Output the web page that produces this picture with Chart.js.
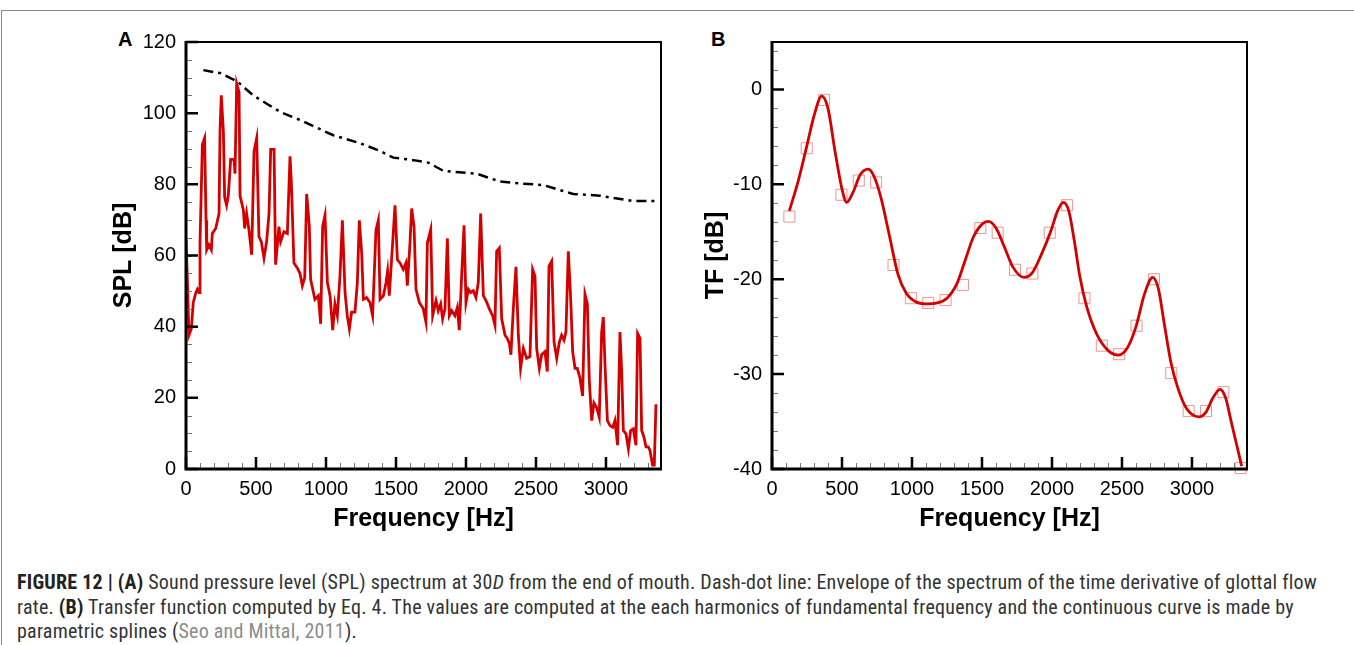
<!DOCTYPE html>
<html>
<head>
<meta charset="utf-8">
<script src="https://cdn.jsdelivr.net/npm/chart.js@4.4.1/dist/chart.umd.min.js"></script>
<style>
  body { margin: 0; background: #fff; width: 1354px; height: 645px; overflow: hidden; position: relative; font-family: "Liberation Sans", Arial, sans-serif; }
  .frame { position: absolute; left: 1px; top: 10px; width: 1360px; height: 650px; border-top: 1px solid #8a8a8a; border-left: 1px solid #8a8a8a; }
  canvas { position: absolute; }
  .panel { position: absolute; font-weight: bold; font-size: 20px; color: #000; }
  .caption { position: absolute; left: 17px; top: 570px; font-family: "Roboto Condensed", "Liberation Sans Narrow", Arial, sans-serif; font-size: 20px; letter-spacing: 0.23px; line-height: 24.5px; color: #333; white-space: nowrap; }
  .caption b { color: #222; }
  .caption .ref { color: #8c8c8c; }
</style>
</head>
<body>
<div class="frame"></div>
<div class="panel" style="left:118px; top:28px;">A</div>
<div class="panel" style="left:711px; top:28px;">B</div>
<canvas id="chartA" width="580" height="520" style="left:100px; top:20px;"></canvas>
<canvas id="chartB" width="580" height="520" style="left:690px; top:20px;"></canvas>
<div class="caption">
  <div><b>FIGURE 12 | (A)</b> Sound pressure level (SPL) spectrum at 30<i>D</i> from the end of mouth. Dash-dot line: Envelope of the spectrum of the time derivative of glottal flow</div>
  <div>rate. <b>(B)</b> Transfer function computed by Eq. 4. The values are computed at the each harmonics of fundamental frequency and the continuous curve is made by</div>
  <div>parametric splines (<span class="ref">Seo and Mittal, 2011</span>).</div>
</div>
<script>
// Panel A: SPL spectrum
const spectrumHz = [
  0, 9, 21, 38, 52, 70, 81, 93, 100, 117, 133, 143, 148, 164, 181, 188, 212, 236,
  243, 252, 267, 276, 290, 302, 319, 343, 350, 362, 379, 386, 410, 419, 433, 450,
  469, 486, 505, 521, 538, 557, 576, 593, 605, 629, 640, 664, 676, 700, 724, 743,
  752, 771, 795, 814, 831, 848, 862, 881, 890, 921, 945, 962, 976, 993, 1010, 1029,
  1048, 1064, 1081, 1100, 1117, 1136, 1152, 1167, 1183, 1207, 1224, 1238, 1255, 1267,
  1290, 1314, 1333, 1357, 1374, 1386, 1410, 1429, 1440, 1452, 1476, 1493, 1510, 1529,
  1552, 1571, 1581, 1600, 1612, 1629, 1643, 1667, 1695, 1714, 1724, 1748, 1762, 1786,
  1802, 1819, 1833, 1850, 1867, 1881, 1898, 1921, 1938, 1952, 1969, 1986, 2000, 2017,
  2033, 2052, 2071, 2088, 2105, 2124, 2143, 2167, 2190, 2207, 2219, 2238, 2255, 2279,
  2295, 2310, 2321, 2338, 2357, 2374, 2390, 2410, 2433, 2457, 2476, 2493, 2505, 2524,
  2540, 2564, 2581, 2593, 2612, 2629, 2648, 2667, 2683, 2700, 2714, 2731, 2748, 2762,
  2779, 2795, 2814, 2833, 2850, 2867, 2881, 2898, 2914, 2933, 2952, 2969, 2981, 2993,
  3010, 3029, 3048, 3064, 3083, 3100, 3112, 3124, 3143, 3160, 3176, 3195, 3214, 3226,
  3243, 3255, 3271, 3286, 3302, 3314, 3333, 3345, 3357
];
const spectrumDb = [
  64.4, 54.2, 37.6, 39.4, 46.8, 49.5, 50.5, 49.6, 63.5, 91.2, 93.0, 69.9, 61.6, 63.0, 61.6, 66.2, 67.6, 71.8,
  94.9, 105.0, 94.9, 76.4, 74.1, 76.8, 87.0, 87.0, 83.0, 108.3, 105.9, 76.8, 72.7, 67.6, 71.8, 67.1,
  60.2, 89.3, 93.0, 65.3, 63.9, 59.3, 63.9, 71.8, 89.8, 89.8, 57.4, 68.1, 63.9, 66.7, 66.2, 87.9,
  81.0, 57.9, 56.5, 55.0, 51.5, 53.8, 77.3, 68.1, 53.3, 47.7, 48.7, 40.8, 68.1, 71.3, 52.4, 48.7,
  39.0, 46.4, 43.1, 54.2, 69.9, 49.6, 43.1, 39.4, 44.1, 44.1, 52.4, 69.9, 60.7, 47.7,
  48.2, 46.8, 43.1, 67.1, 69.9, 47.7, 48.7, 52.4, 55.6, 48.7, 63.5, 74.1, 58.8, 57.9,
  56.1, 57.9, 51.5, 63.5, 73.2, 68.1, 50.5, 46.8, 45.0, 41.3, 63.5, 67.3, 43.1, 47.3,
  44.5, 46.4, 42.2, 45.0, 64.8, 43.1, 44.5, 43.1, 45.4, 39.0, 54.2, 68.5, 46.8, 50.5,
  49.6, 50.1, 48.2, 52.4, 71.8, 48.7, 47.3, 45.0, 43.1, 40.4, 61.2, 62.1, 42.2, 37.6,
  36.7, 35.3, 32.1, 45.0, 56.8, 37.6, 28.3, 33.9, 31.1, 31.6, 56.1, 54.2, 33.9, 28.3,
  32.1, 33.0, 27.4, 57.0, 58.4, 35.7, 31.1, 35.7, 37.6, 36.2, 38.5, 61.2, 47.7, 33.0,
  28.3, 28.3, 25.6, 20.5, 49.1, 46.4, 24.7, 13.6, 18.6, 17.3, 14.5, 38.5, 42.7, 29.3,
  13.6, 12.2, 11.7, 13.6, 6.7, 38.5, 27.4, 10.8, 9.9, 5.7, 10.8, 11.3, 6.7, 38.1,
  36.7, 10.8, 9.0, 6.2, 6.2, 5.3, 1.1, 1.1, 18.2
];
// dash-dot envelope of the glottal flow derivative spectrum
const envelopeHz = [124, 250, 370, 480, 600, 680, 814, 930, 1052, 1240, 1380, 1481, 1624, 1731, 1838, 1950, 2076, 2150, 2243, 2400, 2552, 2660, 2767, 2957, 3080, 3195, 3362];
const envelopeDb = [112.1, 111.2, 108.8, 105.0, 102.1, 100.2, 98.1, 96.0, 93.8, 91.6, 89.5, 87.5, 86.8, 86.1, 83.8, 83.4, 83.0, 82.0, 80.8, 80.2, 79.8, 78.5, 77.3, 76.8, 76.0, 75.3, 75.3];

// Panel B: transfer function at the harmonics (squares) and spline curve
const harmonicHz = [124, 248, 372, 496, 620, 744, 868, 992, 1116, 1240, 1364, 1488, 1612, 1736, 1860, 1984, 2108, 2232, 2356, 2480, 2604, 2728, 2852, 2976, 3100, 3224, 3348];
const harmonicTf = [-13.4, -6.2, -1.1, -11.1, -9.6, -9.8, -18.5, -22.0, -22.5, -22.2, -20.6, -14.6, -15.1, -19.0, -19.4, -15.1, -12.2, -22.0, -27.0, -27.9, -24.9, -20.0, -29.9, -33.9, -33.9, -31.9, -39.9];
const curveHz = [124, 190, 248, 300, 355, 400, 450, 500, 533, 580, 630, 688, 730, 780, 840, 900, 960, 1030, 1100, 1180, 1250, 1320, 1380, 1440, 1500, 1545, 1600, 1660, 1720, 1800, 1860, 1930, 1990, 2040, 2081, 2120, 2160, 2200, 2250, 2320, 2400, 2474, 2540, 2600, 2660, 2719, 2760, 2800, 2850, 2900, 2960, 3050, 3100, 3150, 3200, 3240, 3280, 3320, 3355];
const curveTf = [-12.8, -9.5, -6.0, -2.8, -0.7, -2.0, -6.5, -10.5, -11.9, -10.8, -9.0, -8.4, -9.2, -11.5, -15.5, -19.5, -21.5, -22.4, -22.6, -22.5, -22.0, -20.5, -18.0, -15.5, -14.2, -13.9, -14.6, -16.6, -18.7, -19.8, -19.3, -17.2, -15.0, -12.8, -11.9, -12.8, -16.0, -19.8, -23.0, -25.8, -27.5, -28.0, -27.2, -25.0, -21.6, -19.8, -21.0, -24.5, -28.8, -31.5, -33.6, -34.5, -34.0, -32.5, -31.6, -32.5, -35.0, -37.5, -39.7];

const xTicks = [0, 500, 1000, 1500, 2000, 2500, 3000];
const splTicks = [0, 20, 40, 60, 80, 100, 120];
const tfTicks = [-40, -30, -20, -10, 0];
const xMax = 3393;

const toPoints = (xs, ys) => xs.map((x, i) => ({ x, y: ys[i] }));

// frame + inward tick marks, like the original plotting package
const frameTicks = {
  id: 'frameTicks',
  afterDatasetsDraw(chart, args, opts) {
    const { ctx, chartArea: a, scales } = chart;
    const sx = scales.x, sy = scales.y;
    ctx.save();
    // minor ticks
    ctx.strokeStyle = '#777';
    ctx.lineWidth = 1;
    ctx.beginPath();
    for (let v = 0; v <= sx.max; v += opts.xMinor) {
      const px = Math.round(sx.getPixelForValue(v)) + 0.5;
      ctx.moveTo(px, a.bottom);
      ctx.lineTo(px, a.bottom - 6);
    }
    for (let v = opts.yStart; v <= sy.max; v += opts.yMinor) {
      const py = Math.round(sy.getPixelForValue(v)) + 0.5;
      ctx.moveTo(a.left, py);
      ctx.lineTo(a.left + 6, py);
    }
    ctx.stroke();
    // major ticks
    ctx.strokeStyle = '#000';
    ctx.lineWidth = 2.5;
    ctx.beginPath();
    for (let v = 0; v <= sx.max; v += opts.xMajor) {
      const px = sx.getPixelForValue(v);
      ctx.moveTo(px, a.bottom);
      ctx.lineTo(px, a.bottom - 12);
    }
    for (let v = opts.yStart; v <= sy.max; v += opts.yMajor) {
      const py = sy.getPixelForValue(v);
      ctx.moveTo(a.left, py);
      ctx.lineTo(a.left + 12, py);
    }
    ctx.stroke();
    // frame
    ctx.lineWidth = 2;
    ctx.beginPath();
    ctx.moveTo(a.left, a.top);
    ctx.lineTo(a.right, a.top);
    ctx.lineTo(a.right, a.bottom);
    ctx.stroke();
    ctx.lineWidth = 3;
    ctx.beginPath();
    ctx.moveTo(a.left, a.top - 1);
    ctx.lineTo(a.left, a.bottom);
    ctx.lineTo(a.right + 1, a.bottom);
    ctx.stroke();
    ctx.restore();
  }
};

const tickFont = { family: '"Liberation Sans", Arial, sans-serif', size: 20 };
const titleFont = { family: '"Liberation Sans", Arial, sans-serif', size: 25, weight: 'bold' };

function axes(yMin, yMax, yTicks, yTitle, yWidth, yTitlePad) {
  return {
    x: {
      type: 'linear', min: 0, max: xMax,
      grid: { display: false, drawTicks: false },
      border: { display: false },
      afterBuildTicks: s => { s.ticks = xTicks.map(value => ({ value })); },
      ticks: { padding: 8, color: '#000', font: tickFont, autoSkip: false, maxRotation: 0, callback: v => String(v) },
      title: { display: true, text: 'Frequency [Hz]', color: '#000', font: titleFont, padding: { top: 0, bottom: 6 } },
      afterFit: s => { s.height = 71; }
    },
    y: {
      type: 'linear', min: yMin, max: yMax,
      grid: { display: false, drawTicks: false },
      border: { display: false },
      afterBuildTicks: s => { s.ticks = yTicks.map(value => ({ value })); },
      ticks: { padding: 10, color: '#000', font: tickFont, autoSkip: false, callback: v => String(v) },
      title: { display: true, text: yTitle, color: '#000', font: titleFont, padding: { top: yTitlePad, bottom: 0 } },
      afterFit: s => { s.width = yWidth; }
    }
  };
}

new Chart(document.getElementById('chartA'), {
  type: 'scatter',
  data: {
    datasets: [
      {
        data: toPoints(envelopeHz, envelopeDb),
        showLine: true, borderColor: '#000', borderWidth: 2.5, borderDash: [10, 5, 3, 5],
        pointRadius: 0, tension: 0
      },
      {
        data: toPoints(spectrumHz, spectrumDb),
        showLine: true, borderColor: '#d40000', borderWidth: 2.8, borderJoinStyle: 'miter',
        pointRadius: 0, tension: 0
      }
    ]
  },
  options: {
    responsive: false, animation: false,
    layout: { padding: { top: 16, right: 19, left: 0, bottom: 0 } },
    plugins: { legend: { display: false }, tooltip: { enabled: false }, frameTicks: { xMajor: 500, xMinor: 100, yMajor: 20, yMinor: 5, yStart: 0 } },
    scales: axes(0, 120, splTicks, 'SPL [dB]', 86, 9)
  },
  plugins: [frameTicks]
});

new Chart(document.getElementById('chartB'), {
  type: 'scatter',
  data: {
    datasets: [
      {
        data: toPoints(curveHz, curveTf),
        showLine: true, borderColor: '#d40000', borderWidth: 2.8,
        pointRadius: 0, tension: 0.4, cubicInterpolationMode: 'monotone'
      },
      {
        data: toPoints(harmonicHz, harmonicTf),
        showLine: false, pointStyle: 'rect', pointRadius: 7.8,
        borderColor: 'rgba(230,130,130,0.85)', backgroundColor: 'rgba(0,0,0,0)', borderWidth: 1,
        clip: false
      }
    ]
  },
  options: {
    responsive: false, animation: false,
    layout: { padding: { top: 18, right: 23, left: 0, bottom: 0 } },
    plugins: { legend: { display: false }, tooltip: { enabled: false }, frameTicks: { xMajor: 500, xMinor: 100, yMajor: 10, yMinor: 2, yStart: -40 } },
    scales: axes(-40, 5, tfTicks, 'TF [dB]', 82, 11)
  },
  plugins: [frameTicks]
});
</script>
</body>
</html>
